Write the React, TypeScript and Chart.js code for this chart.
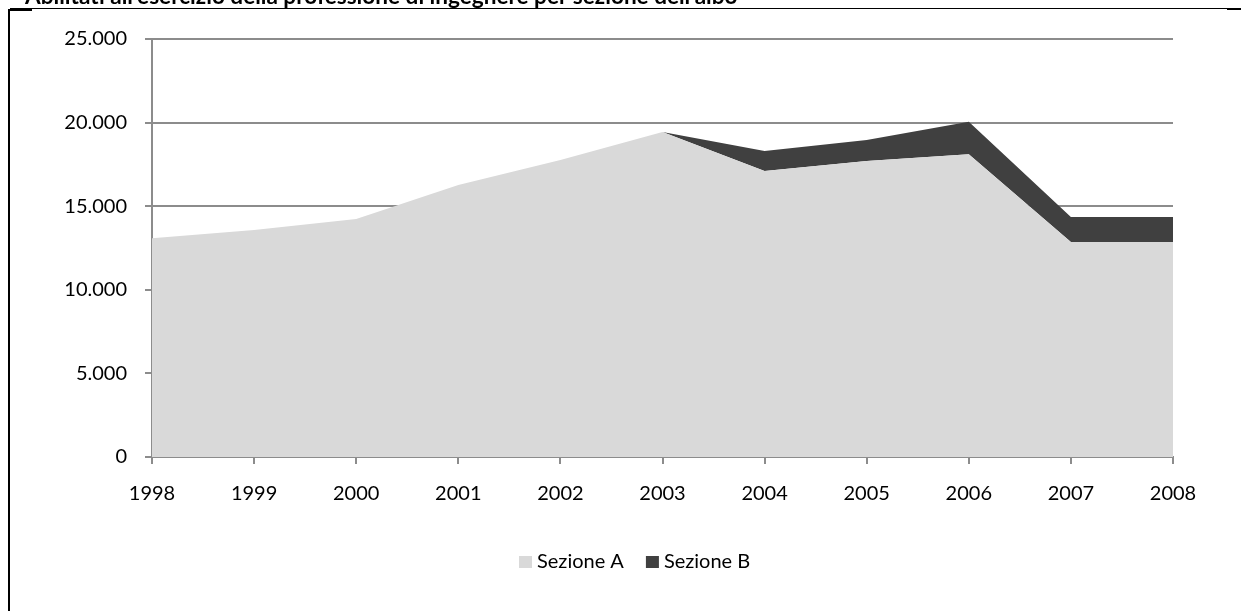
import React, { useEffect, useRef } from "react";
import { Chart, registerables } from "chart.js";

Chart.register(...registerables);

const years = ["1998", "1999", "2000", "2001", "2002", "2003", "2004", "2005", "2006", "2007", "2008"];
const sezioneA = [13080, 13580, 14230, 16270, 17760, 19440, 17100, 17700, 18100, 12860, 12860];
const sezioneB = [0, 0, 0, 0, 0, 0, 1200, 1260, 1950, 1490, 1490];
const seriesLabels = ["Sezione A", "Sezione B"];
const seriesColors = ["#d9d9d9", "#404040"];
const yMin = 0;
const yMax = 25000;
const yStep = 5000;
const titleText = "Abilitati all'esercizio della professione di ingegnere per sezione dell'albo";

const FONT = "Lato, 'Open Sans', sans-serif";
const W = 1241;
const H = 611;
const GRID = "#8c8c8c";

const fmt = (v: number) => String(v).replace(/\B(?=(\d{3})+(?!\d))/g, ".");

const framePlugin = {
  id: "frameAndTitle",
  afterDraw(chart: any) {
    const ctx = chart.ctx;
    ctx.save();
    ctx.fillStyle = "#000";
    // frame
    ctx.fillRect(10, 8, 1218, 1);
    ctx.fillRect(1227, 8, 14, 2);
    ctx.fillRect(8, 9, 2, H - 9);
    ctx.fillRect(8, 9, 24, 2);
    // title (clipped at top)
    ctx.font = `bold 20px ${FONT}`;
    const w20 = ctx.measureText(titleText).width;
    const size = (20 * 713) / w20;
    ctx.font = `bold ${size}px ${FONT}`;
    ctx.textBaseline = "alphabetic";
    ctx.textAlign = "left";
    ctx.fillText(titleText, 25, 4);
    // legend
    ctx.font = `20px ${FONT}`;
    ctx.textBaseline = "middle";
    let x = 519;
    const cy = 562;
    chart.data.datasets.forEach((ds: any) => {
      ctx.fillStyle = ds.backgroundColor;
      ctx.fillRect(x, cy - 6, 13, 12);
      ctx.fillStyle = "#000";
      ctx.fillText(ds.label, x + 18, cy);
      x += 18 + ctx.measureText(ds.label).width + 22;
    });
    ctx.restore();
  },
};

export default function App() {
  const ref = useRef<HTMLCanvasElement>(null);
  useEffect(() => {
    document.body.style.margin = "0";
    const chart = new Chart(ref.current as HTMLCanvasElement, {
      type: "line",
      data: {
        labels: years,
        datasets: [
          {
            label: seriesLabels[0],
            data: sezioneA,
            backgroundColor: seriesColors[0],
            borderColor: seriesColors[0],
            borderWidth: 0,
            pointRadius: 0,
            fill: "origin",
            tension: 0,
          },
          {
            label: seriesLabels[1],
            data: sezioneB,
            backgroundColor: seriesColors[1],
            borderColor: seriesColors[1],
            borderWidth: 0,
            pointRadius: 0,
            fill: "-1",
            tension: 0,
          },
        ],
      },
      options: {
        animation: false,
        responsive: false,
        maintainAspectRatio: false,
        layout: { padding: { left: 0, top: 39, right: 68, bottom: 94 } },
        plugins: {
          legend: { display: false },
          title: { display: false },
          tooltip: { enabled: false },
        },
        scales: {
          x: {
            type: "category",
            offset: false,
            afterFit: (s: any) => {
              s.height = 60;
            },
            grid: {
              display: true,
              drawOnChartArea: false,
              drawTicks: true,
              tickLength: 7,
              color: GRID,
              lineWidth: 2,
            },
            border: { display: true, color: GRID, width: 2 },
            ticks: {
              color: "#000",
              font: { family: FONT, size: 20 },
              padding: 18,
              maxRotation: 0,
              autoSkip: false,
            },
          },
          y: {
            stacked: true,
            min: yMin,
            max: yMax,
            afterFit: (s: any) => {
              s.width = 152;
            },
            grid: {
              display: true,
              drawOnChartArea: true,
              tickLength: 7,
              color: GRID,
              lineWidth: 2,
            },
            border: { display: true, color: GRID, width: 2 },
            ticks: {
              stepSize: yStep,
              color: "#000",
              font: { family: FONT, size: 20 },
              padding: 18,
              callback: (v: any) => fmt(Number(v)),
            },
          },
        },
      },
      plugins: [framePlugin],
    });
    return () => chart.destroy();
  }, []);
  return (
    <div style={{ position: "fixed", left: 0, top: 0, width: W, height: H, background: "#fff" }}>
      <canvas ref={ref} width={W} height={H} style={{ width: W, height: H, display: "block" }} />
    </div>
  );
}
